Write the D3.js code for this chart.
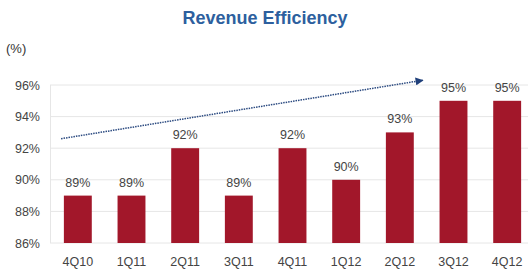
<!DOCTYPE html>
<html><head><meta charset="utf-8">
<script src="https://cdn.jsdelivr.net/npm/d3@7/dist/d3.min.js"></script>
<style>body{margin:0;background:#fff;}svg{display:block;font-family:Arial,"Liberation Sans",sans-serif;}</style>
</head><body>
<svg id="c" width="528" height="276"></svg>
<script>
const categories = ["4Q10","1Q11","2Q11","3Q11","4Q11","1Q12","2Q12","3Q12","4Q12"];
const values = [89,89,92,89,92,90,93,95,95];
const yTicks = [86,88,90,92,94,96];
const trend = [{cat:"4Q10", pos:-0.1, v:92.6},{cat:"3Q12", pos:-0.6, v:96.3}];

const svg = d3.select("#c");
const x = d3.scaleBand().domain(categories).range([51, 534]).paddingInner(0.48).paddingOuter(0.24);
const y = d3.scaleLinear().domain([86,96]).range([243, 85]);

svg.append("text").attr("x",265).attr("y",24).attr("text-anchor","middle")
  .attr("font-size",18).attr("font-weight","bold").attr("fill","#2d5f9e").text("Revenue Efficiency");
svg.append("text").attr("x",6).attr("y",53).attr("font-size",13).attr("fill","#333").text("(%)");

// gridlines
svg.append("g").selectAll("line").data(yTicks).join("line")
  .attr("x1",50).attr("x2",528).attr("y1",d=>y(d)).attr("y2",d=>y(d))
  .attr("stroke","#e6e6e6").attr("stroke-width",1);
svg.append("line").attr("x1",50.5).attr("x2",50.5).attr("y1",y(96)).attr("y2",y(86)).attr("stroke","#e6e6e6");

const yAxis = svg.append("g").attr("transform","translate(50,0)")
  .call(d3.axisLeft(y).tickValues(yTicks).tickFormat(d=>d+"%").tickSize(0).tickPadding(10));
yAxis.select(".domain").remove();
yAxis.selectAll("text").attr("font-size",12.5).attr("fill","#444").attr("font-family","Arial,'Liberation Sans',sans-serif");

svg.append("g").selectAll("rect").data(values).join("rect")
  .attr("x",(d,i)=>x(categories[i])).attr("width",x.bandwidth())
  .attr("y",d=>y(d)).attr("height",d=>y(86)-y(d)).attr("fill","#a2172a");

svg.append("g").selectAll("text").data(values).join("text")
  .attr("x",(d,i)=>x(categories[i])+x.bandwidth()/2).attr("y",d=>y(d)-9)
  .attr("text-anchor","middle").attr("font-size",12.5).attr("fill","#444").text(d=>d+"%");

const xAxis = svg.append("g").attr("transform","translate(0,243)")
  .call(d3.axisBottom(x).tickSize(0).tickPadding(14));
xAxis.select(".domain").remove();
xAxis.selectAll("text").attr("font-size",12.5).attr("fill","#444").attr("font-family","Arial,'Liberation Sans',sans-serif");

// trend arrow
const defs = svg.append("defs");
defs.append("marker").attr("id","ah").attr("viewBox","0 0 10 10").attr("refX",9).attr("refY",5)
  .attr("markerWidth",9).attr("markerHeight",8).attr("orient","auto").attr("markerUnits","userSpaceOnUse")
  .append("path").attr("d","M0,0L10,5L0,10z").attr("fill","#1f3f7a");
const tx = t => x(t.cat) + t.pos*x.bandwidth();
svg.append("line").attr("x1",tx(trend[0])).attr("y1",y(trend[0].v))
  .attr("x2",tx(trend[1])).attr("y2",y(trend[1].v))
  .attr("stroke","#2b4a80").attr("stroke-width",1.5).attr("stroke-dasharray","1.5,1")
  .attr("marker-end","url(#ah)");
</script>
</body></html>
